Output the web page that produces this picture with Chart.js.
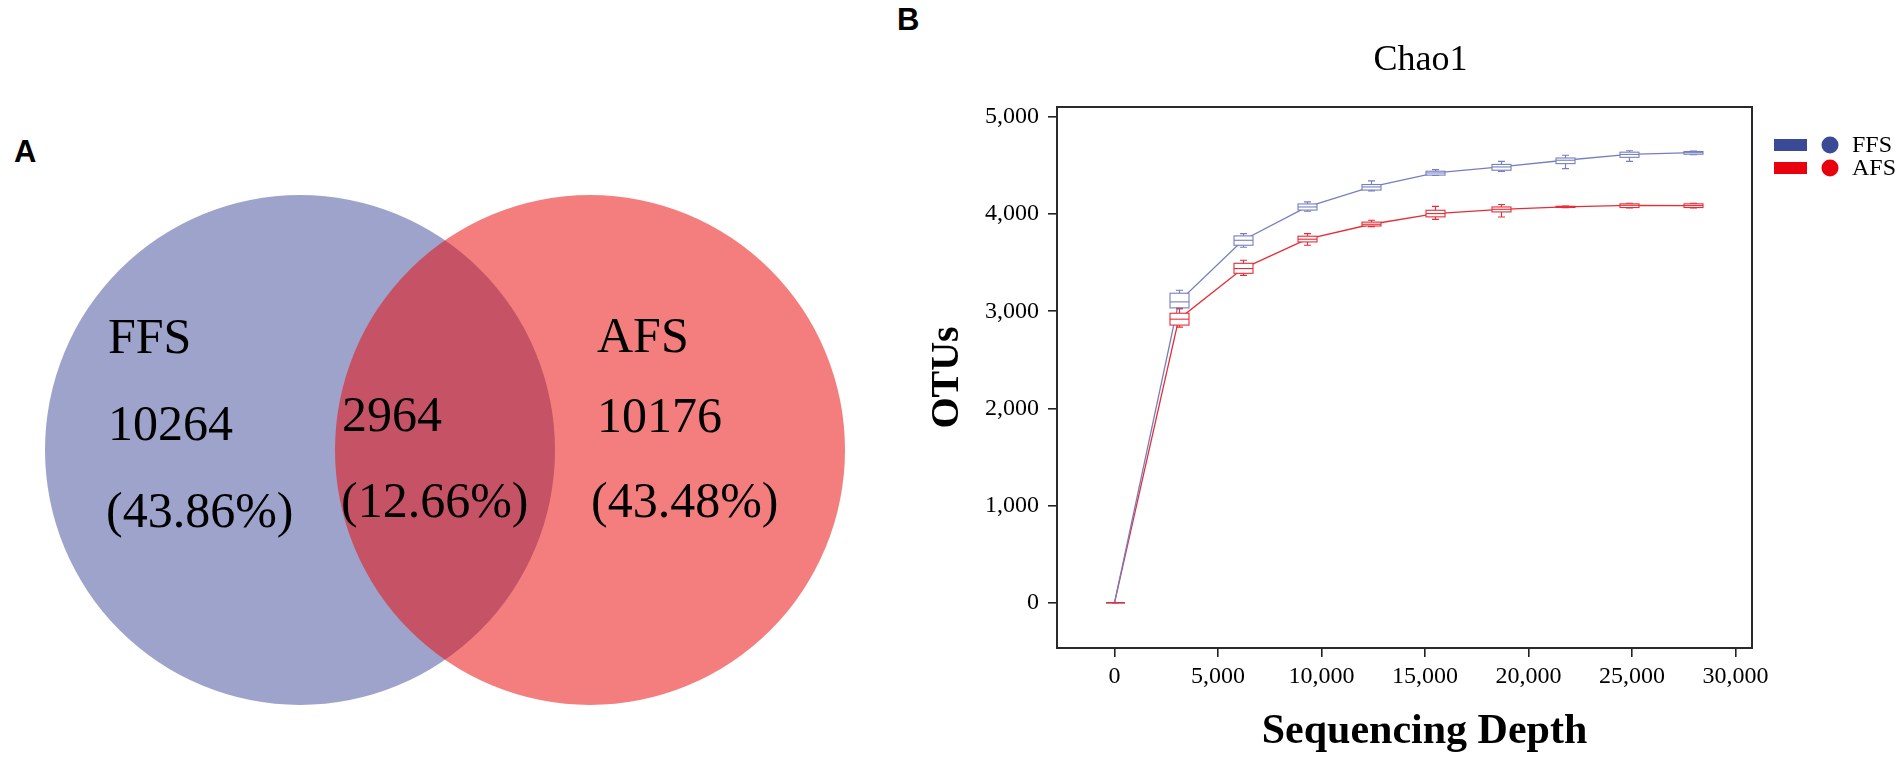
<!DOCTYPE html>
<html>
<head>
<meta charset="utf-8">
<script src="https://cdn.jsdelivr.net/npm/chart.js@4.4.1/dist/chart.umd.min.js"></script>
<style>
  html, body { margin: 0; padding: 0; background: #fff; }
  body { width: 1904px; height: 758px; position: relative; overflow: hidden; }
  .panel { position: absolute; top: 0; height: 758px; }
  #vennBox { left: 0; width: 880px; }
  #curveBox { left: 880px; width: 1024px; }
  .tag { position: absolute; font: bold 31px "Liberation Sans", Arial, sans-serif; color: #000; }
</style>
</head>
<body>
<div class="tag" style="left:14px;top:134px">A</div>
<div class="tag" style="left:897px;top:2px">B</div>
<div class="panel" id="vennBox"><canvas id="vennChart"></canvas></div>
<div class="panel" id="curveBox"><canvas id="chaoChart"></canvas></div>
<script>
// ---- Venn data (panel A)
const vennSets = ["FFS", "AFS"];
const vennOnly = [10264, 10176];
const vennShared = 2964;

// ---- Rarefaction data (panel B)
const groups = ["FFS", "AFS"];
const depth = [0, 3100, 6200, 9300, 12400, 15500, 18650, 21750, 24850, 27950];
const ffsMin = [0, 3025, 3660, 4030, 4240, 4398, 4440, 4469, 4543, 4612];
const ffsQ1  = [0, 3035, 3680, 4042, 4248, 4402, 4452, 4520, 4585, 4617];
const ffsMed = [0, 3097, 3731, 4074, 4280, 4424, 4486, 4555, 4615, 4633];
const ffsQ3  = [0, 3186, 3776, 4105, 4305, 4442, 4512, 4578, 4638, 4645];
const ffsMax = [0, 3216, 3800, 4126, 4343, 4458, 4543, 4606, 4652, 4650];
const afsMin = [0, 2837, 3370, 3680, 3872, 3946, 3971, 4066, 4064, 4064];
const afsQ1  = [0, 2858, 3391, 3714, 3878, 3972, 4023, 4069, 4068, 4068];
const afsMed = [0, 2919, 3440, 3742, 3896, 4006, 4050, 4075, 4091, 4088];
const afsQ3  = [0, 2980, 3494, 3773, 3918, 4040, 4074, 4081, 4106, 4106];
const afsMax = [0, 3032, 3525, 3800, 3937, 4080, 4100, 4084, 4112, 4112];
const xTicks = [0, 5000, 10000, 15000, 20000, 25000, 30000];
const yTicks = [0, 1000, 2000, 3000, 4000, 5000];

const SERIF = "'Liberation Serif', 'Times New Roman', serif";
Chart.defaults.font.family = SERIF;
Chart.defaults.color = "#000";

// ---- Venn geometry / styles
const vennLayout = {
  centers: [[300, 450], [590, 450]],
  radius: 255,
  fills: ["rgba(59,71,150,0.5)", "rgba(234,12,12,0.53)"]
};
const total = vennOnly[0] + vennOnly[1] + vennShared;
const pct = n => "(" + (n / total * 100).toFixed(2) + "%)";
const vennText = [
  { text: vennSets[0], x: 108, y: 353 },
  { text: String(vennOnly[0]), x: 108, y: 440 },
  { text: pct(vennOnly[0]), x: 106, y: 527 },
  { text: String(vennShared), x: 342, y: 431 },
  { text: pct(vennShared), x: 341, y: 517 },
  { text: vennSets[1], x: 597, y: 352 },
  { text: String(vennOnly[1]), x: 597, y: 432 },
  { text: pct(vennOnly[1]), x: 591, y: 517 }
];

const vennLabels = {
  id: "vennLabels",
  afterDatasetsDraw(chart) {
    const { ctx, scales: { x, y } } = chart;
    ctx.save();
    ctx.fillStyle = "#000";
    ctx.font = "50px " + SERIF;
    ctx.textBaseline = "alphabetic";
    vennText.forEach(t => ctx.fillText(t.text, x.getPixelForValue(t.x), y.getPixelForValue(t.y)));
    ctx.restore();
  }
};

new Chart(document.getElementById("vennChart"), {
  type: "scatter",
  data: {
    datasets: [{
      data: vennLayout.centers.map(c => ({ x: c[0], y: c[1] })),
      pointBackgroundColor: vennLayout.fills,
      pointBorderWidth: 0,
      pointRadius: c => c.chart.scales.x.getPixelForValue(vennLayout.radius) - c.chart.scales.x.getPixelForValue(0),
      showLine: false
    }]
  },
  options: {
    responsive: true,
    maintainAspectRatio: false,
    animation: false,
    events: [],
    layout: { padding: 0 },
    plugins: { legend: { display: false }, tooltip: { enabled: false } },
    scales: {
      x: { type: "linear", display: false, min: 0, max: 880 },
      y: { type: "linear", display: false, min: 0, max: 758, reverse: true }
    }
  },
  plugins: [vennLabels]
});

// ---- Panel B styles
const lineColors = ["rgb(118,126,192)", "rgb(232,44,54)"];
const legendColors = ["#3a4a96", "#e8000e"];
const boxStats = [
  { min: ffsMin, q1: ffsQ1, med: ffsMed, q3: ffsQ3, max: ffsMax },
  { min: afsMin, q1: afsQ1, med: afsMed, q3: afsQ3, max: afsMax }
];
const BOX_W = 19, CAP_W = 7;

const boxPlots = {
  id: "boxPlots",
  afterDatasetsDraw(chart) {
    const { ctx, scales: { x, y } } = chart;
    ctx.save();
    ctx.lineWidth = 1.1;
    boxStats.forEach((s, g) => {
      ctx.strokeStyle = lineColors[g];
      depth.forEach((d, i) => {
        const px = Math.round(x.getPixelForValue(d)) + 0.5;
        const yMin = y.getPixelForValue(s.min[i]), yQ1 = y.getPixelForValue(s.q1[i]);
        const yMed = y.getPixelForValue(s.med[i]), yQ3 = y.getPixelForValue(s.q3[i]);
        const yMax = y.getPixelForValue(s.max[i]);
        ctx.beginPath();
        ctx.moveTo(px, yMax); ctx.lineTo(px, yQ3);
        ctx.moveTo(px, yQ1); ctx.lineTo(px, yMin);
        ctx.moveTo(px - CAP_W / 2, yMax); ctx.lineTo(px + CAP_W / 2, yMax);
        ctx.moveTo(px - CAP_W / 2, yMin); ctx.lineTo(px + CAP_W / 2, yMin);
        ctx.stroke();
        ctx.fillStyle = "#fff";
        ctx.fillRect(px - BOX_W / 2, yQ3, BOX_W, yQ1 - yQ3);
        ctx.strokeRect(px - BOX_W / 2, yQ3, BOX_W, yQ1 - yQ3);
        ctx.beginPath();
        ctx.moveTo(px - BOX_W / 2, yMed); ctx.lineTo(px + BOX_W / 2, yMed);
        ctx.stroke();
      });
    });
    ctx.restore();
  }
};

const frameAndText = {
  id: "frameAndText",
  afterDraw(chart) {
    const { ctx, chartArea: a } = chart;
    ctx.save();
    // frame
    ctx.strokeStyle = "#2a2a2a";
    ctx.lineWidth = 2;
    ctx.strokeRect(a.left, a.top, a.right - a.left, a.bottom - a.top);
    // title and x title
    const cx = (a.left + a.right) / 2;
    ctx.fillStyle = "#000";
    ctx.textAlign = "center";
    ctx.textBaseline = "alphabetic";
    ctx.font = "36px " + SERIF;
    ctx.fillText("Chao1", cx + 16, 70);
    ctx.font = "bold 42px " + SERIF;
    ctx.fillText("Sequencing Depth", cx + 20, 743);
    // legend: bar + dot + label
    groups.forEach((name, g) => {
      const ry = [145, 168][g];
      ctx.fillStyle = legendColors[g];
      ctx.fillRect(a.right + 22, ry - 6, 33, 12);
      ctx.beginPath();
      ctx.arc(a.right + 78, ry, 8.5, 0, Math.PI * 2);
      ctx.fill();
      ctx.fillStyle = "#000";
      ctx.textAlign = "left";
      ctx.textBaseline = "middle";
      ctx.font = "24px " + SERIF;
      ctx.fillText(name, a.right + 100, ry + 1);
    });
    ctx.restore();
  }
};

const medians = [ffsMed, afsMed];
new Chart(document.getElementById("chaoChart"), {
  type: "line",
  data: {
    datasets: groups.map((name, g) => ({
      label: name,
      data: depth.map((d, i) => ({ x: d, y: medians[g][i] })),
      borderColor: lineColors[g],
      borderWidth: 1.3,
      pointRadius: 0,
      tension: 0
    }))
  },
  options: {
    responsive: true,
    maintainAspectRatio: false,
    animation: false,
    events: [],
    layout: { padding: { left: 0, top: 107, right: 152, bottom: 0 } },
    plugins: { legend: { display: false }, tooltip: { enabled: false } },
    scales: {
      x: {
        type: "linear",
        min: -2780,
        max: 30800,
        afterBuildTicks: s => { s.ticks = xTicks.map(v => ({ value: v })); },
        afterFit: s => { s.height = 110; },
        ticks: {
          autoSkip: false, maxRotation: 0, padding: 5,
          font: { size: 24 },
          callback: v => v.toLocaleString("en-US")
        },
        grid: { drawOnChartArea: false, tickLength: 9, tickColor: "#222", lineWidth: 1.6 },
        border: { display: false }
      },
      y: {
        type: "linear",
        min: -466,
        max: 5103,
        afterBuildTicks: s => { s.ticks = yTicks.map(v => ({ value: v })); },
        afterFit: s => { s.width = 177; },
        ticks: {
          autoSkip: false, padding: 9,
          font: { size: 24 },
          callback: v => v.toLocaleString("en-US")
        },
        grid: { drawOnChartArea: false, tickLength: 9, tickColor: "#222", lineWidth: 1.6 },
        border: { display: false },
        title: {
          display: true, text: "OTUs",
          font: { size: 40, weight: "bold" },
          padding: { top: 44, bottom: 0 }
        }
      }
    }
  },
  plugins: [boxPlots, frameAndText]
});
</script>
</body>
</html>
